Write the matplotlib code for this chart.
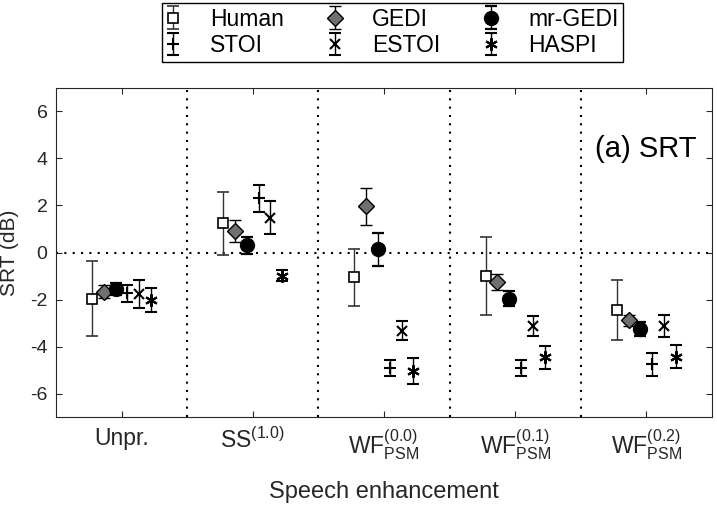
import matplotlib.pyplot as plt
import numpy as np

plt.rcParams['font.family'] = ['Liberation Sans', 'DejaVu Sans']
plt.rcParams['mathtext.fontset'] = 'custom'
plt.rcParams['mathtext.rm'] = 'Liberation Sans'
plt.rcParams['mathtext.it'] = 'Liberation Sans:italic'
plt.rcParams['mathtext.bf'] = 'Liberation Sans:bold'
plt.rcParams['axes.unicode_minus'] = False

conditions = ['Unpr.', r'$\mathrm{SS}^{(1.0)}$',
              r'$\mathrm{WF}^{(0.0)}_{\mathrm{PSM}}$',
              r'$\mathrm{WF}^{(0.1)}_{\mathrm{PSM}}$',
              r'$\mathrm{WF}^{(0.2)}_{\mathrm{PSM}}$']

# SRT means (dB) and error half-widths, one per condition
human = [-1.97, 1.24, -1.06, -1.00, -2.43]
human_err = [1.6, 1.33, 1.2, 1.67, 1.27]
gedi = [-1.67, 0.93, 1.97, -1.26, -2.89]
gedi_err = [0.28, 0.47, 0.78, 0.33, 0.25]
mrgedi = [-1.54, 0.31, 0.14, -1.96, -3.24]
mrgedi_err = [0.25, 0.36, 0.70, 0.33, 0.30]
stoi = [-1.74, 2.31, -4.90, -4.90, -4.76]
stoi_err = [0.35, 0.58, 0.34, 0.33, 0.48]
estoi = [-1.78, 1.48, -3.33, -3.13, -3.13]
estoi_err = [0.60, 0.70, 0.40, 0.42, 0.47]
haspi = [-2.03, -0.98, -5.04, -4.46, -4.43]
haspi_err = [0.50, 0.25, 0.55, 0.50, 0.48]

series = [
    ('Human', human, human_err, dict(marker='s', ms=7, mfc='white', mec='black', mew=1.2), '#333333'),
    ('GEDI', gedi, gedi_err, dict(marker='D', ms=8.5, mfc='#707070', mec='black', mew=1.0), 'black'),
    ('mr-GEDI', mrgedi, mrgedi_err, dict(marker='o', ms=10, mfc='black', mec='black'), 'black'),
    ('STOI', stoi, stoi_err, dict(marker='+', ms=9, mec='black', mew=1.5), 'black'),
    ('ESTOI', estoi, estoi_err, dict(marker='x', ms=7, mec='black', mew=1.5), 'black'),
    ('HASPI', haspi, haspi_err, dict(marker=(6, 2, 0), ms=9, mec='black', mew=1.5), 'black'),
]
offsets = [-0.225, -0.135, -0.045, 0.045, 0.135, 0.225]

fig = plt.figure(figsize=(7.17, 5.05), dpi=100)
ax = fig.add_axes([0.078, 0.174, 0.915, 0.652])

x = np.arange(1, len(conditions) + 1)
dots = (0, (1, 3))
ax.axhline(0, color='black', lw=1.5, ls=dots, zorder=1)
for xv in x[:-1] + 0.5:
    ax.axvline(xv, color='black', lw=1.5, ls=dots, zorder=1)

handles = {}
for (name, vals, errs, mk, ecol), off in zip(series, offsets):
    h = ax.errorbar(x + off, vals, yerr=errs, ls='none', ecolor=ecol,
                    elinewidth=1.0, capsize=4.5, capthick=1.6, label=name,
                    zorder=3, **mk)
    handles[name] = h

ax.set_xlim(0.5, 5.5)
ax.set_ylim(-7, 7)
ax.set_xticks(x)
ax.set_xticklabels(conditions)
ax.set_yticks([-6, -4, -2, 0, 2, 4, 6])
ax.tick_params(direction='in', length=4, top=True, right=True,
               colors='#262626')
ax.tick_params(axis='y', labelsize=14, pad=6)
ax.tick_params(axis='x', labelsize=16.5, pad=7)
for s in ax.spines.values():
    s.set_color('#262626')
    s.set_linewidth(0.8)
ax.set_xlabel('Speech enhancement', fontsize=17, color='#262626', labelpad=14)
ax.set_ylabel('SRT (dB)', fontsize=15, color='#262626', labelpad=8)
ax.text(5.38, 4.4, '(a) SRT', fontsize=21, ha='right', va='center', color='black')

order = ['Human', 'STOI', 'GEDI', 'ESTOI', 'mr-GEDI', 'HASPI']
leg = fig.legend([handles[n] for n in order], order, ncol=3, loc='upper left',
                 bbox_to_anchor=(0.226, 0.994), fontsize=16.5, frameon=True,
                 fancybox=False, edgecolor='black', framealpha=1,
                 handlelength=0.55, handletextpad=1.34, columnspacing=1.95,
                 borderpad=0.2, labelspacing=0.15, borderaxespad=0)
leg.get_frame().set_linewidth(1.0)

fig.savefig('out.png', dpi=100)
